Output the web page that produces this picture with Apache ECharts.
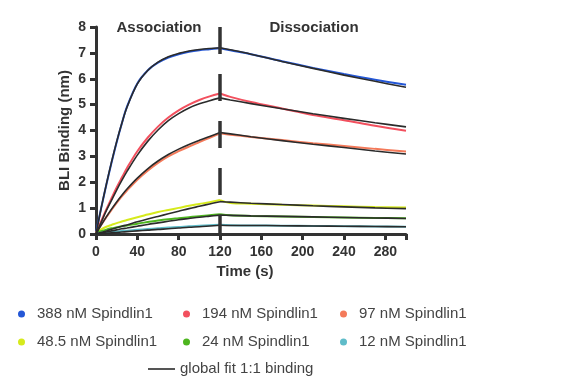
<!DOCTYPE html>
<html>
<head>
<meta charset="utf-8">
<script src="https://cdn.jsdelivr.net/npm/echarts@6/dist/echarts.min.js"></script>
<style>html,body{margin:0;padding:0;background:#fff}#c{width:571px;height:380px}</style>
</head>
<body>
<div id="c"></div>
<script>
// ---- data ----
var tAssoc = [0,5,10,15,20,25,30,40,50,60,70,80,90,100,110,120];
var tDiss  = [120,130,150,180,210,240,270,300];
var xTicks = [0,40,80,120,160,200,240,280];
var yTicks = [0,1,2,3,4,5,6,7,8];
var phaseBoundary = 120;
var phaseLabels = ['Association','Dissociation'];
var phaseLabelAt = [60, 210];

var names = ['388 nM Spindlin1','194 nM Spindlin1','97 nM Spindlin1','48.5 nM Spindlin1','24 nM Spindlin1','12 nM Spindlin1'];
var fitName = 'global fit 1:1 binding';

var d388A = [0.05,1.0,1.9,2.75,3.55,4.27,4.92,5.82,6.32,6.62,6.82,6.95,7.04,7.1,7.14,7.18];
var d388D = [7.18,7.1,6.95,6.68,6.42,6.18,5.96,5.77];
var f388A = [0,1.0,1.92,2.78,3.57,4.28,4.9,5.8,6.32,6.64,6.85,6.98,7.07,7.13,7.17,7.2];
var f388D = [7.2,7.12,6.95,6.67,6.4,6.14,5.9,5.67];

var d194A = [0.05,0.5,0.95,1.38,1.8,2.18,2.55,3.2,3.72,4.15,4.5,4.78,5.0,5.18,5.32,5.43];
var d194D = [5.43,5.3,5.1,4.85,4.6,4.4,4.18,3.99];
var f194A = [0,0.45,0.9,1.3,1.7,2.07,2.42,3.05,3.58,4.02,4.38,4.65,4.87,5.03,5.15,5.26];
var f194D = [5.26,5.18,5.04,4.84,4.65,4.47,4.3,4.14];

var d97A = [0.05,0.35,0.65,0.93,1.2,1.45,1.68,2.1,2.45,2.75,3.0,3.2,3.38,3.55,3.72,3.89];
var d97D = [3.89,3.84,3.75,3.63,3.51,3.4,3.29,3.19];
var f97A = [0,0.34,0.66,0.96,1.24,1.5,1.74,2.16,2.52,2.82,3.07,3.28,3.46,3.62,3.77,3.92];
var f97D = [3.92,3.87,3.76,3.61,3.47,3.34,3.21,3.09];

var d48A = [0.05,0.18,0.28,0.35,0.42,0.48,0.54,0.65,0.75,0.85,0.93,1.01,1.09,1.16,1.23,1.31];
var d48D = [1.31,1.2,1.17,1.13,1.1,1.07,1.04,1.02];
var f48A = [0,0.06,0.12,0.18,0.24,0.3,0.35,0.47,0.58,0.68,0.78,0.88,0.98,1.07,1.16,1.25];
var f48D = [1.25,1.23,1.19,1.14,1.09,1.05,1.01,0.98];

var d24A = [0.05,0.11,0.17,0.22,0.26,0.3,0.33,0.4,0.46,0.52,0.57,0.61,0.65,0.69,0.72,0.76];
var d24D = [0.76,0.72,0.7,0.68,0.66,0.64,0.62,0.61];
var f24A = [0,0.04,0.08,0.12,0.16,0.2,0.23,0.3,0.37,0.43,0.49,0.55,0.6,0.65,0.69,0.73];
var f24D = [0.73,0.72,0.7,0.68,0.66,0.64,0.62,0.6];

var d12A = [0.03,0.05,0.07,0.09,0.1,0.12,0.13,0.16,0.19,0.22,0.25,0.27,0.3,0.32,0.34,0.36];
var d12D = [0.36,0.34,0.33,0.32,0.31,0.3,0.29,0.28];
var f12A = [0,0.015,0.03,0.045,0.06,0.075,0.09,0.12,0.15,0.18,0.2,0.23,0.26,0.28,0.31,0.34];
var f12D = [0.34,0.33,0.33,0.32,0.31,0.3,0.29,0.28];

var dataA = [d388A,d194A,d97A,d48A,d24A,d12A];
var dataD = [d388D,d194D,d97D,d48D,d24D,d12D];
var fitA = [f388A,f194A,f97A,f48A,f24A,f12A];
var fitD = [f388D,f194D,f97D,f48D,f24D,f12D];
var colors = ['#2457d6','#f2505e','#f47a5a','#d6ea1c','#4db51f','#5fbcc9'];

// ---- build ----
function pairs(t, v){ return t.map(function(x,i){ return [x, v[i]]; }); }
var FONT = '"Liberation Sans", Arial, sans-serif';
var series = [];
for (var i = 0; i < names.length; i++) {
  [[tAssoc,dataA[i]],[tDiss,dataD[i]]].forEach(function(p){
    series.push({type:'line', name:names[i], data:pairs(p[0],p[1]), showSymbol:false, symbol:'none',
      smooth:0.35, color:colors[i], lineStyle:{width:2, color:colors[i]}, silent:true, z:2});
  });
}
for (var j = 0; j < names.length; j++) {
  [[tAssoc,fitA[j]],[tDiss,fitD[j]]].forEach(function(p){
    series.push({type:'line', name:fitName, data:pairs(p[0],p[1]), showSymbol:false, symbol:'none',
      smooth:0.35, color:'#333', lineStyle:{width:1.6, color:'#2b2b2b'}, silent:true, z:3});
  });
}
series.push({type:'line', name:'boundary', data:[[phaseBoundary, yTicks[yTicks.length-1]],[phaseBoundary, yTicks[0]]],
  showSymbol:false, symbol:'none', lineStyle:{width:3.5, color:'#333', type:[27,20]}, silent:true, z:5});

var legendLefts = [18,183,340,18,183,340];
var legendTops = [305,305,305,333,333,333];
var legends = names.map(function(n,k){
  return {data:[n], left:legendLefts[k], top:legendTops[k]+1, padding:0, icon:'circle', itemWidth:7, itemHeight:7,
    selectedMode:false, textStyle:{fontSize:15, color:'#444', fontFamily:FONT, padding:[0,0,0,7], lineHeight:16}};
});
legends.push({data:[fitName], left:148, top:361, padding:0, icon:'rect', itemWidth:27, itemHeight:2,
  selectedMode:false, itemStyle:{color:'#555'}, textStyle:{fontSize:15, color:'#444', fontFamily:FONT, lineHeight:16}});

var chart = echarts.init(document.getElementById('c'), null, {renderer:'canvas'});
chart.setOption({
  animation:false,
  backgroundColor:'#fff',
  grid:{left:96, top:27, width:310, height:207, containLabel:false},
  legend:legends,
  xAxis:{type:'value', min:0, max:300, interval:40,
    name:'Time (s)', nameLocation:'middle', nameGap:30, nameMoveOverlap:false,
    nameTextStyle:{fontSize:15, fontWeight:'bold', color:'#333', fontFamily:FONT, padding:[0,12,0,0]},
    axisLine:{show:true, lineStyle:{color:'#333', width:3}},
    axisTick:{show:true, length:6, lineStyle:{color:'#333', width:3}},
    axisLabel:{fontSize:14, fontWeight:'bold', color:'#333', fontFamily:FONT, margin:11,
      formatter:function(v){ return xTicks.indexOf(v) >= 0 ? String(v) : ''; }},
    splitLine:{show:false}},
  yAxis:{type:'value', min:0, max:8, interval:1,
    name:'BLI Binding (nm)', nameLocation:'middle', nameGap:24, nameMoveOverlap:false,
    nameTextStyle:{fontSize:15, fontWeight:'bold', color:'#333', fontFamily:FONT},
    axisLine:{show:true, lineStyle:{color:'#333', width:3}},
    axisTick:{show:true, length:6, lineStyle:{color:'#333', width:3}},
    axisLabel:{fontSize:14, fontWeight:'bold', color:'#333', fontFamily:FONT, margin:10,
      formatter:function(v){ return yTicks.indexOf(v) >= 0 ? String(v) : ''; }},
    splitLine:{show:false}},
  series:series
});
var g = phaseLabels.map(function(txt, k){
  var p = chart.convertToPixel({gridIndex:0}, [phaseLabelAt[k], yTicks[yTicks.length-1]]);
  return {type:'text', x:p[0]+1, y:p[1]+1, style:{text:txt, fill:'#333', font:'bold 15px ' + FONT, textAlign:'center', textVerticalAlign:'middle'}};
});
chart.setOption({graphic:g});
</script>
</body>
</html>
